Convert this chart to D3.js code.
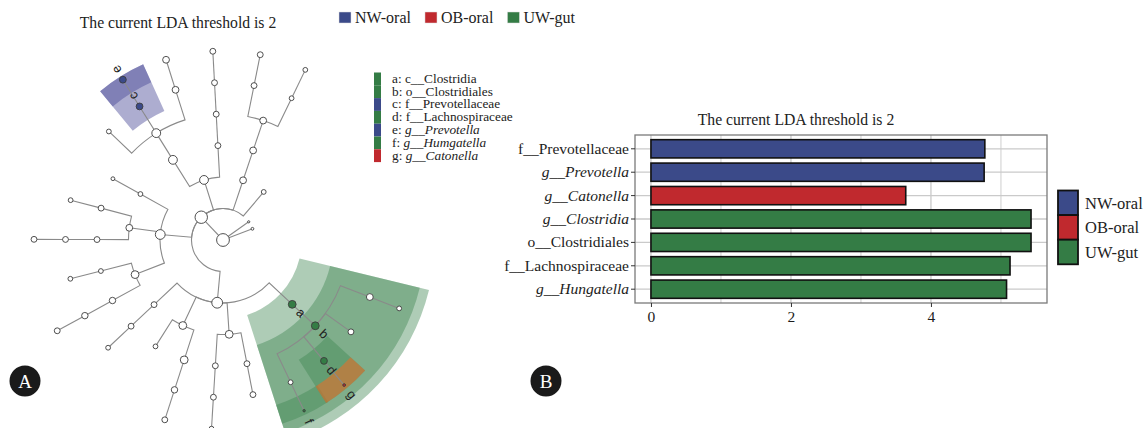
<!DOCTYPE html>
<html>
<head>
<meta charset="utf-8">
<script src="https://cdn.jsdelivr.net/npm/d3@7"></script>
<style>
  html, body { margin: 0; padding: 0; background: #fff; }
  svg { display: block; font-family: "Liberation Serif", "Times New Roman", serif; }
</style>
</head>
<body>
<svg id="fig" width="1146" height="428"></svg>
<script>
// ---------------- data ----------------
const groups = ["NW-oral", "OB-oral", "UW-gut"];
const groupColors = ["#3b4a89", "#c0292e", "#347c45"];

// LDA scores (panel B)
const featureLabels = ["f__Prevotellaceae", "g__Prevotella", "g__Catonella", "g__Clostridia",
                       "o__Clostridiales", "f__Lachnospiraceae", "g__Hungatella"];
const featureItalic = [false, true, true, true, false, false, true];
const featureGroup = ["NW-oral", "NW-oral", "OB-oral", "UW-gut", "UW-gut", "UW-gut", "UW-gut"];
const ldaScores = [4.77, 4.76, 3.64, 5.43, 5.43, 5.13, 5.08];
const ldaTicks = [0, 2, 4];
const ldaMinorTicks = [1, 3, 5];

// Taxonomic tree (panel A): [id, parent id, relative abundance], listed clockwise
const taxa = [
  ["root", null, 100],
  ["k1", "root", 93],
  ["p1", "k1", 66],
  ["p1c1", "p1", 28],
  ["p1c1o1", "p1c1", 28],
  ["p1c1o1f1", "p1c1o1", 19],
  ["p1c1o1f1g1", "p1c1o1f1", 6],
  ["p1c1o1f2", "p1c1o1", 12],
  ["p1c1o1f3", "p1c1o1", 19],
  ["p1c1o1f3g1", "p1c1o1f3", 0.3],
  ["p1c1o1f4", "p1c1o1", 6],
  ["p1c1o1f4g1", "p1c1o1f4", 0.05],
  ["p1c2", "p1", 28],
  ["p1c2o1", "p1c2", 12],
  ["p1c2o1f1", "p1c2o1", 12],
  ["p1c2o2", "p1c2", 12],
  ["p1c2o2f1", "p1c2o2", 12],
  ["p1c2o2f1g1", "p1c2o2f1", 6],
  ["p1c3", "p1", 28],
  ["p1c3o1", "p1c3", 28],
  ["p1c3o1f1", "p1c3o1", 16],
  ["p1c3o1f1g1", "p1c3o1f1", 12],
  ["p1c3o2", "p1c3", 6],
  ["p1c4", "p1", 12],
  ["p1c4o1", "p1c4", 12],
  ["p1c4o1f1", "p1c4o1", 6],
  ["p2", "k1", 51],
  ["p2c1", "p2", 28],
  ["p2c1o1", "p2c1", 16],
  ["p2c1o1f1", "p2c1o1", 16],
  ["p2c1o1f1g1", "p2c1o1f1", 12],
  ["p2c1o2", "p2c1", 6],
  ["p2c1o2f1", "p2c1o2", 6],
  ["p2c2", "p2", 19],
  ["p2c2o1", "p2c2", 12],
  ["p2c2o1f1", "p2c2o1", 12],
  ["p2c2o1f1g1", "p2c2o1f1", 12],
  ["p2c2o2", "p2c2", 12],
  ["p2c2o2f1", "p2c2o2", 6],
  ["p2c3", "p2", 6],
  ["p2c3o1", "p2c3", 2.3],
  ["p3", "k1", 39],
  ["p3c1", "p3", 39],
  ["p3c1o1", "p3c1", 39],
  ["p3c1o1f1", "p3c1o1", 6],
  ["p3c1o1f2", "p3c1o1", 19],
  ["p3c1o1f2g1", "p3c1o1f2", 19],
  ["p3c1o1f3", "p3c1o1", 19],
  ["p3c1o1f3g1", "p3c1o1f3", 19],
  ["p3c2", "p3", 12],
  ["p3c2o1", "p3c2", 12],
  ["p3c2o1f1", "p3c2o1", 12],
  ["p3c2o1f1g1", "p3c2o1f1", 12],
  ["p4", "k1", 19],
  ["p4c1", "p4", 19],
  ["p4c1o1", "p4c1", 19],
  ["p4c1o1f1", "p4c1o1", 12],
  ["p4c1o1f1g1", "p4c1o1f1", 12],
  ["p4c1o1f2", "p4c1o1", 6],
  ["p4c1o1f2g1", "p4c1o1f2", 6],
  ["p5", "k1", 6],
  ["k2", "root", 0],
  ["k3", "root", 0.3]
];

// Biomarker clades on the cladogram
const cladeNodes   = ["p1c1", "p1c1o1", "p3c1o1f2", "p1c1o1f3", "p3c1o1f2g1", "p1c1o1f4g1", "p1c1o1f3g1"];
const cladeLetters = ["a", "b", "c", "d", "e", "f", "g"];
const cladeNames   = ["c__Clostridia", "o__Clostridiales", "f__Prevotellaceae", "f__Lachnospiraceae",
                      "g__Prevotella", "g__Humgatella", "g__Catonella"];
const cladeItalic  = [false, false, false, false, true, true, true];
const cladeGroup   = ["UW-gut", "UW-gut", "NW-oral", "UW-gut", "NW-oral", "UW-gut", "OB-oral"];

const titleText = "The current LDA threshold is 2";

// ---------------- helpers ----------------
const svg = d3.select("#fig");
const color = d3.scaleOrdinal().domain(groups).range(groupColors);
// translucent shading used for highlighted clades
const shade = d3.scaleOrdinal().domain(groups).range(["#4a4a96", "#e0702c", "#3f8650"]);
const shadeOpacity = d3.scaleOrdinal().domain(groups).range([0.45, 0.62, 0.42]);
const rad = deg => deg * Math.PI / 180;

function italicLabel(sel, text, italic) {
  sel.text(null);
  if (!italic) { sel.text(text); return; }
  sel.append("tspan").text(text).style("font-style", "italic");
}

// ---------------- panel A : cladogram ----------------
const A = svg.append("g");
const CX = 223, CY = 240, STEP = 31.5;
const START = rad(104), EXTENT = rad(332.4);

const rootNode = d3.stratify()
  .id(d => d[0])
  .parentId(d => d[1])(taxa);
d3.cluster().size([EXTENT, 1]).separation(() => 1)(rootNode);

const nodes = rootNode.descendants();
nodes.forEach(n => { n.a = START + n.x; n.r = n.depth * STEP; });
const pt = (a, r) => [CX + r * Math.sin(a), CY - r * Math.cos(a)];
const leafGap = EXTENT / (rootNode.leaves().length - 1);
const sizeScale = d3.scaleSqrt().domain([0, 100]).range([1.1, 6.4]);
const byId = new Map(nodes.map(n => [n.id, n]));

// clade shading
const sectorArc = d3.arc();
const clades = cladeNodes.map((id, i) => ({
  node: byId.get(id), letter: cladeLetters[i], group: cladeGroup[i]
})).sort((p, q) => p.node.depth - q.node.depth);

const sectorG = A.append("g").attr("transform", `translate(${CX},${CY})`);
clades.forEach(c => {
  const lv = c.node.leaves();
  const a0 = START + d3.min(lv, l => l.x) - leafGap / 2;
  const a1 = START + d3.max(lv, l => l.x) + leafGap / 2;
  const outer = 6 * STEP + 4 + Math.max(0, 5 - c.node.depth) * 9.5;
  sectorG.append("path")
    .attr("d", sectorArc({ innerRadius: c.node.r - STEP / 2, outerRadius: outer, startAngle: a0, endAngle: a1 }))
    .attr("fill", shade(c.group))
    .attr("fill-opacity", shadeOpacity(c.group));
});

// links: arc along the parent's ring, then radial out to the child
const linkG = A.append("g").attr("fill", "none").attr("stroke", "#8a8a8a").attr("stroke-width", 1.1);
nodes.filter(n => n.parent).forEach(n => {
  const p = n.parent;
  const path = d3.path();
  const [px, py] = pt(p.a, p.r);
  path.moveTo(px, py);
  if (p.depth > 0) {
    path.arc(CX, CY, p.r, p.a - Math.PI / 2, n.a - Math.PI / 2, n.a < p.a);
  }
  const [qx, qy] = pt(n.a, n.r);
  path.lineTo(qx, qy);
  linkG.append("path").attr("d", path.toString());
});

// nodes
const cladeOf = new Map(cladeNodes.map((id, i) => [id, cladeGroup[i]]));
A.append("g").selectAll("circle").data(nodes).join("circle")
  .attr("cx", d => pt(d.a, d.r)[0])
  .attr("cy", d => pt(d.a, d.r)[1])
  .attr("r", d => sizeScale(d.data[2]))
  .attr("fill", d => cladeOf.has(d.id) ? color(cladeOf.get(d.id)) : "#fff")
  .attr("stroke", "#3c3c3c")
  .attr("stroke-width", 0.9);

// clade letters
A.append("g").selectAll("text").data(clades).join("text")
  .attr("transform", c => {
    const [x, y] = pt(c.node.a, c.node.r + 12);
    return `translate(${x},${y}) rotate(${c.node.a * 180 / Math.PI - 90})`;
  })
  .attr("text-anchor", "middle")
  .attr("dy", "0.35em")
  .style("font-family", "'Liberation Sans', Arial, sans-serif")
  .style("font-size", "13px")
  .attr("fill", "#222")
  .text(c => c.letter);

// title and group legend
A.append("text").attr("x", 178).attr("y", 28).attr("text-anchor", "middle")
  .style("font-size", "15.7px").attr("fill", "#222").text(titleText);

const topLeg = A.append("g");
let lx = 339;
groups.forEach((g, i) => {
  topLeg.append("rect").attr("x", lx).attr("y", 12).attr("width", 12).attr("height", 11)
    .attr("fill", groupColors[i]).attr("stroke", "#ddd").attr("stroke-width", 0.5);
  const t = topLeg.append("text").attr("x", lx + 16).attr("y", 22.5)
    .style("font-size", "16px").attr("fill", "#222").text(g);
  lx += 16 + t.node().getComputedTextLength() + 14;
});

// clade key
const key = A.append("g");
cladeLetters.forEach((l, i) => {
  const y = 72.5 + i * 12.8;
  key.append("rect").attr("x", 374).attr("y", y).attr("width", 7).attr("height", 12.8)
    .attr("fill", color(cladeGroup[i]));
  const t = key.append("text").attr("x", 392).attr("y", y + 10.2)
    .style("font-size", "13.3px").attr("fill", "#222");
  t.append("tspan").text(l + ": ");
  t.append("tspan").text(cladeNames[i]).style("font-style", cladeItalic[i] ? "italic" : "normal");
});

// ---------------- panel B : LDA bars ----------------
const B = svg.append("g");
const ldaMax = d3.max(ldaScores);
const pad = ldaMax * 0.042;
const x = d3.scaleLinear().domain([-pad, ldaMax + pad]).range([635, 1047]);
const y = d3.scaleBand().domain(featureLabels).range([135, 303]).paddingInner(0.22).paddingOuter(0.2);

// grid
const grid = B.append("g").attr("stroke", "#cacaca");
grid.selectAll(".minor").data(ldaMinorTicks).join("line")
  .attr("x1", d => x(d)).attr("x2", d => x(d)).attr("y1", 135).attr("y2", 303).attr("stroke-width", 0.9);
grid.selectAll(".major").data(ldaTicks).join("line")
  .attr("x1", d => x(d)).attr("x2", d => x(d)).attr("y1", 135).attr("y2", 303).attr("stroke-width", 1.3);
grid.selectAll(".hz").data(featureLabels).join("line")
  .attr("x1", 635).attr("x2", 1047)
  .attr("y1", d => y(d) + y.bandwidth() / 2).attr("y2", d => y(d) + y.bandwidth() / 2)
  .attr("stroke-width", 1.3);

// bars
B.append("g").selectAll("rect").data(featureLabels).join("rect")
  .attr("x", x(0))
  .attr("y", d => y(d))
  .attr("width", (d, i) => x(ldaScores[i]) - x(0))
  .attr("height", y.bandwidth())
  .attr("fill", (d, i) => color(featureGroup[i]))
  .attr("stroke", "#111")
  .attr("stroke-width", 1.6);

// panel border
B.append("rect").attr("x", 635).attr("y", 135).attr("width", 412).attr("height", 168)
  .attr("fill", "none").attr("stroke", "#7a7a7a").attr("stroke-width", 1.3);

// axes
const yAxis = B.append("g").attr("transform", "translate(635,0)")
  .call(d3.axisLeft(y).tickSize(4).tickPadding(2));
yAxis.select(".domain").remove();
yAxis.selectAll(".tick line").attr("stroke", "#333");
yAxis.selectAll(".tick text")
  .style("font-family", "'Liberation Serif', serif").style("font-size", "15.5px").attr("fill", "#1c1c1c")
  .each(function (d, i) { italicLabel(d3.select(this), d, featureItalic[i]); });

const xAxis = B.append("g").attr("transform", "translate(0,303)")
  .call(d3.axisBottom(x).tickValues(ldaTicks).tickSize(4).tickPadding(4).tickFormat(d3.format("d")));
xAxis.select(".domain").remove();
xAxis.selectAll(".tick line").attr("stroke", "#333");
xAxis.selectAll(".tick text")
  .style("font-family", "'Liberation Serif', serif").style("font-size", "15.5px").attr("fill", "#1c1c1c");

B.append("text").attr("x", 796).attr("y", 125).attr("text-anchor", "middle")
  .style("font-size", "15.7px").attr("fill", "#222").text(titleText);

// legend
const legB = B.append("g");
groups.forEach((g, i) => {
  legB.append("rect").attr("x", 1058).attr("y", 190.5 + i * 24.6).attr("width", 20).attr("height", 24.6)
    .attr("fill", groupColors[i]).attr("stroke", "#111").attr("stroke-width", 1.8);
  legB.append("text").attr("x", 1085).attr("y", 203 + i * 24.6).attr("dy", "0.35em")
    .style("font-size", "16.5px").attr("fill", "#222").text(g);
});

// ---------------- panel tags ----------------
[["A", 25], ["B", 546]].forEach(([t, cx]) => {
  svg.append("circle").attr("cx", cx).attr("cy", 381).attr("r", 15.5).attr("fill", "#1a1a1a");
  svg.append("text").attr("x", cx).attr("y", 381).attr("dy", "0.36em").attr("text-anchor", "middle")
    .style("font-size", "19px").attr("fill", "#fff").text(t);
});
</script>
</body>
</html>
